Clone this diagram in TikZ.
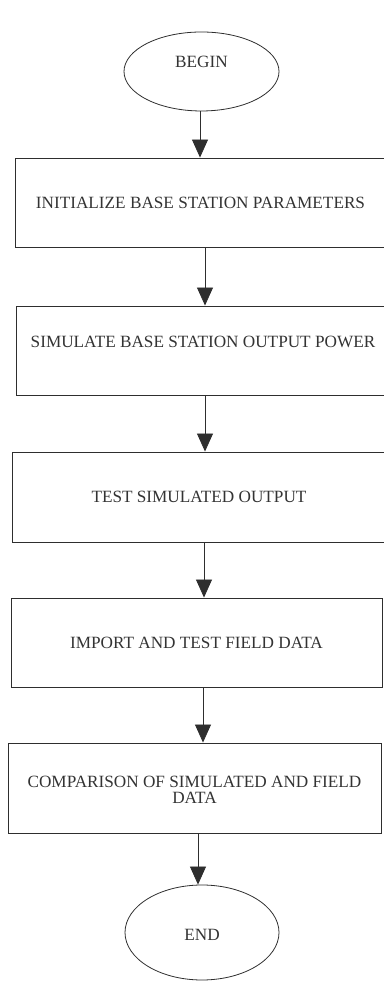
\documentclass[tikz,border=0pt]{standalone}
\usepackage{fontspec}
\setmainfont{Liberation Serif}
\usetikzlibrary{shapes.geometric,arrows.meta}
\definecolor{ink}{HTML}{2E2E2E}
\definecolor{txt}{HTML}{333333}
\tikzset{
  x=1pt,y=1pt,
  oval/.style={draw=ink,line width=0.8pt,ellipse,inner sep=0pt},
  stepbox/.style={draw=ink,line width=0.9pt,rectangle,inner sep=0pt,minimum height=89pt},
  lbl/.style={text=txt,inner sep=0pt,align=center,font=\fontsize{17.2}{16}\selectfont},
  arr/.style={draw=ink,line width=0.8pt,-{Triangle[length=18pt,width=16pt]}}
}
\begin{document}
\begin{tikzpicture}
\useasboundingbox (0,0) rectangle (383,982);
% shapes
\node[oval,minimum width=155pt,minimum height=79pt] (begin) at (201.5,910.5) {};
\node[stepbox,minimum width=371pt] (b1) at (200.5,779.5) {};
\node[stepbox,minimum width=370pt] (b2) at (201,631.5) {};
\node[stepbox,minimum width=374pt,minimum height=90pt] (b3) at (199,485) {};
\node[stepbox,minimum width=371pt] (b4) at (196.5,339.5) {};
\node[stepbox,minimum width=373pt,minimum height=90pt] (b5) at (194.5,194) {};
\node[oval,minimum width=154pt,minimum height=95pt] (end) at (202,49.5) {};
% texts
\node[lbl] (tbegin) at ([yshift=10pt]begin.center) {BEGIN};
\node[lbl] (t1) at (b1.center) {INITIALIZE BASE STATION PARAMETERS};
\node[lbl] (t2) at ([xshift=2pt,yshift=8.5pt]b2.center) {SIMULATE BASE STATION OUTPUT POWER};
\node[lbl] (t3) at (b3.center) {TEST SIMULATED OUTPUT};
\node[lbl] (t4) at (b4.center) {IMPORT AND TEST FIELD DATA};
\node[lbl] (t5) at ([yshift=-2pt]b5.center) {COMPARISON OF SIMULATED AND FIELD\\DATA};
\node[lbl] (tend) at ([yshift=-2.5pt]end.center) {END};
% connectors
\draw[arr] ([xshift=-1.5pt]begin.south) -- ([xshift=-1.5pt]begin.south |- b1.north);
\draw[arr] ([xshift=4.5pt]b1.south) -- ([xshift=4.5pt]b1.south |- b2.north);
\draw[arr] ([xshift=4pt]b2.south) -- ([xshift=4pt]b2.south |- b3.north);
\draw[arr] ([xshift=5pt]b3.south) -- ([xshift=5pt]b3.south |- b4.north);
\draw[arr] ([xshift=6.5pt]b4.south) -- ([xshift=6.5pt]b4.south |- b5.north);
\draw[arr] ([xshift=3.5pt]b5.south) -- ([xshift=3.5pt]b5.south |- end.north);
\end{tikzpicture}
\end{document}
